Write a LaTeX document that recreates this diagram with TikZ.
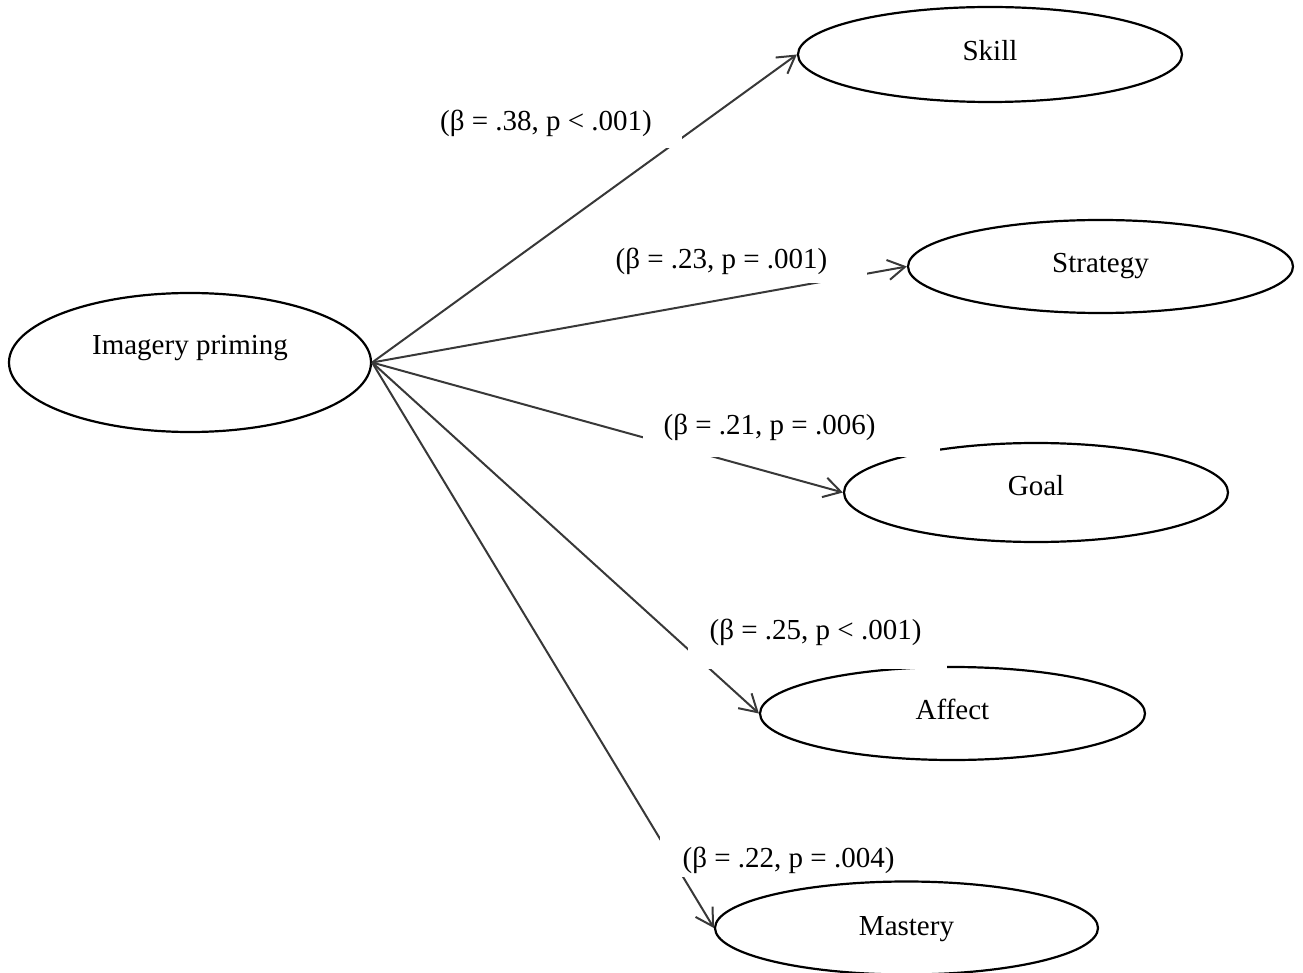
\documentclass[tikz,border=0pt]{standalone}
\usepackage{fontspec}
\setmainfont{Liberation Serif}
\usetikzlibrary{shapes.geometric,arrows.meta}
\definecolor{lineg}{HTML}{383838}
\begin{document}
\begin{tikzpicture}[x=1pt,y=-1pt,
  var/.style={ellipse, draw=black, line width=2.2pt, fill=white, inner sep=0pt,
    minimum width=384pt, minimum height=94pt,
    font=\fontsize{29}{34}\selectfont, text height=20pt, text depth=8pt},
  effect/.style={draw=lineg, line width=2pt,
    -{Straight Barb[length=17pt,width=20pt]}},
  coef/.style={font=\fontsize{29}{34}\selectfont, inner sep=0pt, anchor=base},
  coefbg/.style={fill=white}]
\useasboundingbox (0,0) rectangle (1303,973);
% constructs
\node[var, minimum width=362pt, minimum height=139pt, text depth=35pt] (img) at (190,362.5) {Imagery priming};
\node[var, minimum height=95pt] (skill) at (990,54.5) {Skill};
\node[var, minimum width=385pt, minimum height=93pt] (strat) at (1100.5,266.5) {Strategy};
\node[var, minimum height=99pt, text depth=15pt] (goal) at (1036,492.5) {Goal};
\node[var, minimum width=385pt, minimum height=93pt] (affect) at (952.5,713.5) {Affect};
\node[var, minimum width=383pt, minimum height=93pt, text depth=6pt] (mastery) at (906.5,928) {Mastery};
% paths
\draw[effect] (img.east) -- (skill.west);
\draw[effect] (img.east) -- (strat.west);
\draw[effect] (img.east) -- (goal.west);
\draw[effect] (img.east) -- (affect.west);
\draw[effect] (img.east) -- (mastery.west);
% coefficient labels on white boxes
\fill[coefbg] (421,100) rectangle (682,148);
\node[coef] (c1) at (546,130.5) {(β = .38, p < .001)};
\fill[coefbg] (594,240) rectangle (867,283);
\node[coef] (c2) at (721.5,269) {(β = .23, p = .001)};
\fill[coefbg] (643,403) rectangle (940,457);
\node[coef] (c3) at (769.5,434) {(β = .21, p = .006)};
\fill[coefbg] (688,610) rectangle (947,668.5);
\node[coef] (c4) at (815.5,639) {(β = .25, p < .001)};
\fill[coefbg] (660,835) rectangle (915,877);
\node[coef] (c5) at (788.5,867) {(β = .22, p = .004)};
\end{tikzpicture}
\end{document}
